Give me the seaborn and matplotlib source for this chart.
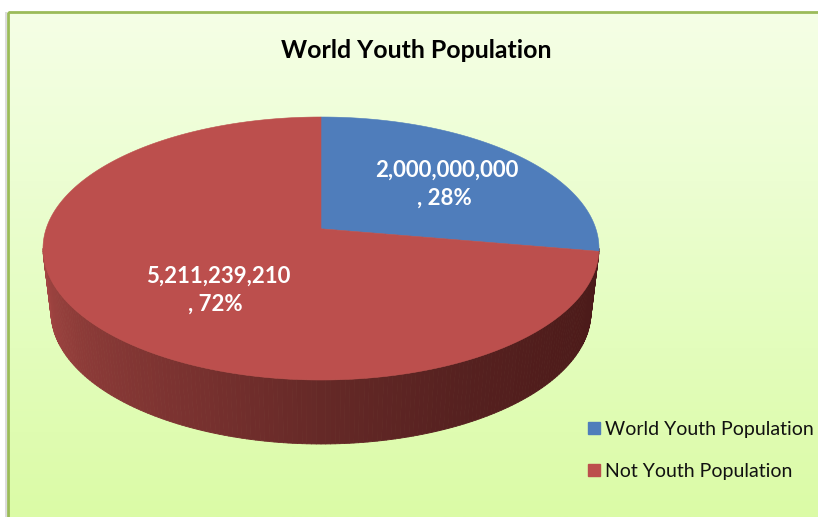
import numpy as np
import matplotlib
matplotlib.use("Agg")
import matplotlib.pyplot as plt
from matplotlib.patches import Patch, Rectangle
from matplotlib.collections import PolyCollection
import seaborn as sns

# data
categories = ["World Youth Population", "Not Youth Population"]
population = [2000000000, 5211239210]
colors = ["#4f7dbb", "#bc4f4d"]
wall_colors = ["#a34643", "#8c3b38", "#7a3230", "#652927", "#562120", "#4f1c1b", "#4a1a19"]
title = "World Youth Population"

sns.set_theme(style="white")
plt.rcParams["font.family"] = ["Lato", "DejaVu Sans"]

fig = plt.figure(figsize=(8.18, 5.17), dpi=100, facecolor="white")
ax = fig.add_axes([0, 0, 1, 1])
ax.set_xlim(0, 818)
ax.set_ylim(517, 0)
ax.axis("off")

# background of the chart area
grad = np.linspace(0, 1, 256).reshape(-1, 1)
bg_cmap = sns.blend_palette(["#f5ffe6", "#ecfed2", "#e3fdbc", "#dbfba6"], as_cmap=True)
ax.imshow(grad, cmap=bg_cmap, extent=(8, 818, 517, 12), aspect="auto", zorder=0)
ax.add_patch(Rectangle((7.5, 11.5), 900, 600, fill=False, ec="#9bbb59", lw=2, zorder=1))
ax.add_patch(Rectangle((5, 12), 1.5, 600, color="#dcdcdc", lw=0, zorder=1))
ax.set_xlim(0, 818)
ax.set_ylim(517, 0)

# pie geometry (perspective view, the far side is squeezed)
cx, cy = 321, 248.5
rx, ry = 278, 131.5
k = 0.15
depth_cy, depth_rx, depth_ry = 312, 270, 132
sx = rx * np.sqrt(1 - k**2)
sy = ry * (1 - k**2)
apex_y = cy - k * ry


def project(theta):
    u, v = np.cos(theta), np.sin(theta)
    w = 1 + k * v
    return cx + sx * u / w, apex_y - sy * v / w


# side wall, strips along the front edge
t = np.linspace(0, np.pi, 181)
wall_pal = sns.blend_palette(wall_colors, len(t) - 1)
strips = []
for i in range(len(t) - 1):
    a, b = t[i], t[i + 1]
    strips.append([
        (cx + rx * np.cos(a), cy + ry * np.sin(a)),
        (cx + rx * np.cos(b), cy + ry * np.sin(b)),
        (cx + depth_rx * np.cos(b), depth_cy + depth_ry * np.sin(b)),
        (cx + depth_rx * np.cos(a), depth_cy + depth_ry * np.sin(a)),
    ])
# blend_palette runs left to right, strips run right to left
wall = PolyCollection(strips, facecolors=wall_pal[::-1], edgecolors=wall_pal[::-1], lw=0.6, zorder=2)
ax.add_collection(wall)

# top of the pie
shares = np.array(population) / sum(population)
angle = np.pi / 2
for share, color in zip(shares, colors):
    th = np.linspace(angle, angle - 2 * np.pi * share, 300)
    px, py = project(th)
    ax.fill(np.r_[cx, px], np.r_[apex_y, py], color=color, lw=0.4, zorder=3)
    angle -= 2 * np.pi * share

# data labels
label_pos = [(447, 184), (218, 290.5)]
for value, share, (lx, ly) in zip(population, shares, label_pos):
    ax.text(lx, ly, f"{value:,}\n, {share:.0%} ", color="white", fontsize=16, fontweight="bold",
            ha="center", va="center", linespacing=1.42, zorder=4)

ax.text(416.5, 50, title, color="black", fontsize=17.9, fontweight="bold", ha="center", va="center", zorder=4)

handles = [Patch(color=c) for c in colors]
leg = ax.legend(handles, categories, loc="upper left", bbox_to_anchor=(588 / 818, 1 - 421 / 517),
                frameon=False, fontsize=14, handlelength=0.62, handleheight=0.62,
                handletextpad=0.26, labelspacing=1.27, labelcolor="#111111",
                borderpad=0, borderaxespad=0)
leg.set_zorder(4)

fig.savefig("out.png", dpi=100)
